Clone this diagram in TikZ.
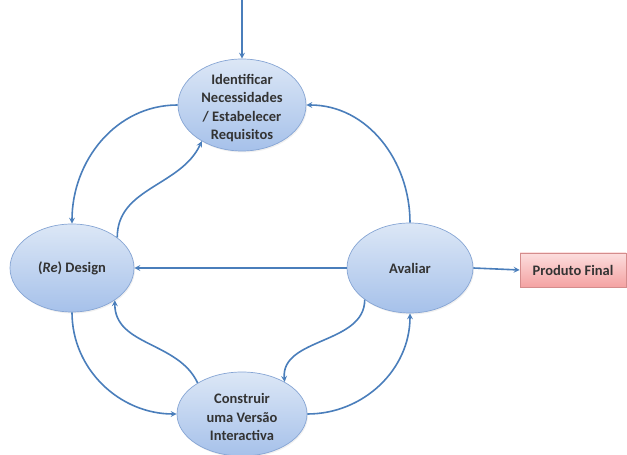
\documentclass[tikz,border=0pt]{standalone}
\usepackage{fontspec}
\setmainfont{Carlito}
\usetikzlibrary{shapes.geometric,shadows}
\definecolor{flowblue}{HTML}{4A7EBB}
\definecolor{ellipsetop}{HTML}{DCE7F6}
\definecolor{ellipsebottom}{HTML}{A6C1EA}
\definecolor{ellipseline}{HTML}{86A5D4}
\definecolor{boxtop}{HTML}{FCDEDE}
\definecolor{boxbottom}{HTML}{F4A2A2}
\definecolor{boxline}{HTML}{D48C8C}
\definecolor{textgray}{HTML}{333333}
\tikzstyle{phasetext} = [align=center, inner sep=0pt, text=textgray, font=\bfseries\fontsize{14.5}{18.5}\selectfont]
\tikzstyle{phase} = [ellipse, inner sep=0pt, draw=ellipseline, line width=0.7pt, top color=ellipsetop, bottom color=ellipsebottom, drop shadow={opacity=0.12, shadow xshift=1pt, shadow yshift=-1.5pt}]
\tikzstyle{outcome} = [rectangle, inner sep=0pt, minimum width=106pt, minimum height=34pt, draw=boxline, line width=0.7pt, top color=boxtop, bottom color=boxbottom, text=textgray, font=\bfseries\fontsize{14.5}{18.5}\selectfont, drop shadow={opacity=0.12, shadow xshift=1pt, shadow yshift=-1.5pt}]
\tikzstyle{arrow} = [line width=1.6pt, draw=flowblue, ->, >=stealth]

\begin{document}
\begin{tikzpicture}[x=1pt, y=1pt]
    \useasboundingbox (0,0) rectangle (627,455);

    \node (identificar) [phase, minimum width=128pt, minimum height=92pt, label={[phasetext, yshift=-3pt]center:{Identificar\\Necessidades\\/ Estabelecer\\Requisitos}}] at (242,350) {};
    \node (design) [phase, minimum width=124pt, minimum height=88pt, label={[phasetext]center:{(\textit{Re}) Design}}] at (72,187) {};
    \node (avaliar) [phase, minimum width=126pt, minimum height=90pt, label={[phasetext]center:{Avaliar}}] at (410,187) {};
    \node (construir) [phase, minimum width=130pt, minimum height=84pt, label={[phasetext, yshift=-3pt]center:{Construir\\uma Versão\\Interactiva}}] at (242,41) {};
    \node (produto) [outcome] at (573,185) {Produto Final};
    \coordinate (inicio) at (242,455);

    \draw [arrow] (inicio) -- (identificar.north);
    \draw [arrow] (identificar.west) to[out=180, in=90] (design.north);
    \draw [arrow] (design.34) to[out=90, in=245] (identificar.222);
    \draw [arrow] (avaliar.north) to[out=90, in=0] (identificar.east);
    \draw [arrow] (avaliar.west) -- (design.east);
    \draw [arrow] (avaliar.east) -- (produto.west);
    \draw [arrow] (design.south) to[out=-90, in=180] (construir.west);
    \draw [arrow] (construir.145) to[out=115, in=-90] (design.-37);
    \draw [arrow] (avaliar.215) to[out=-90, in=95] (construir.37);
    \draw [arrow] (construir.east) to[out=0, in=-90] (avaliar.south);
\end{tikzpicture}
\end{document}
